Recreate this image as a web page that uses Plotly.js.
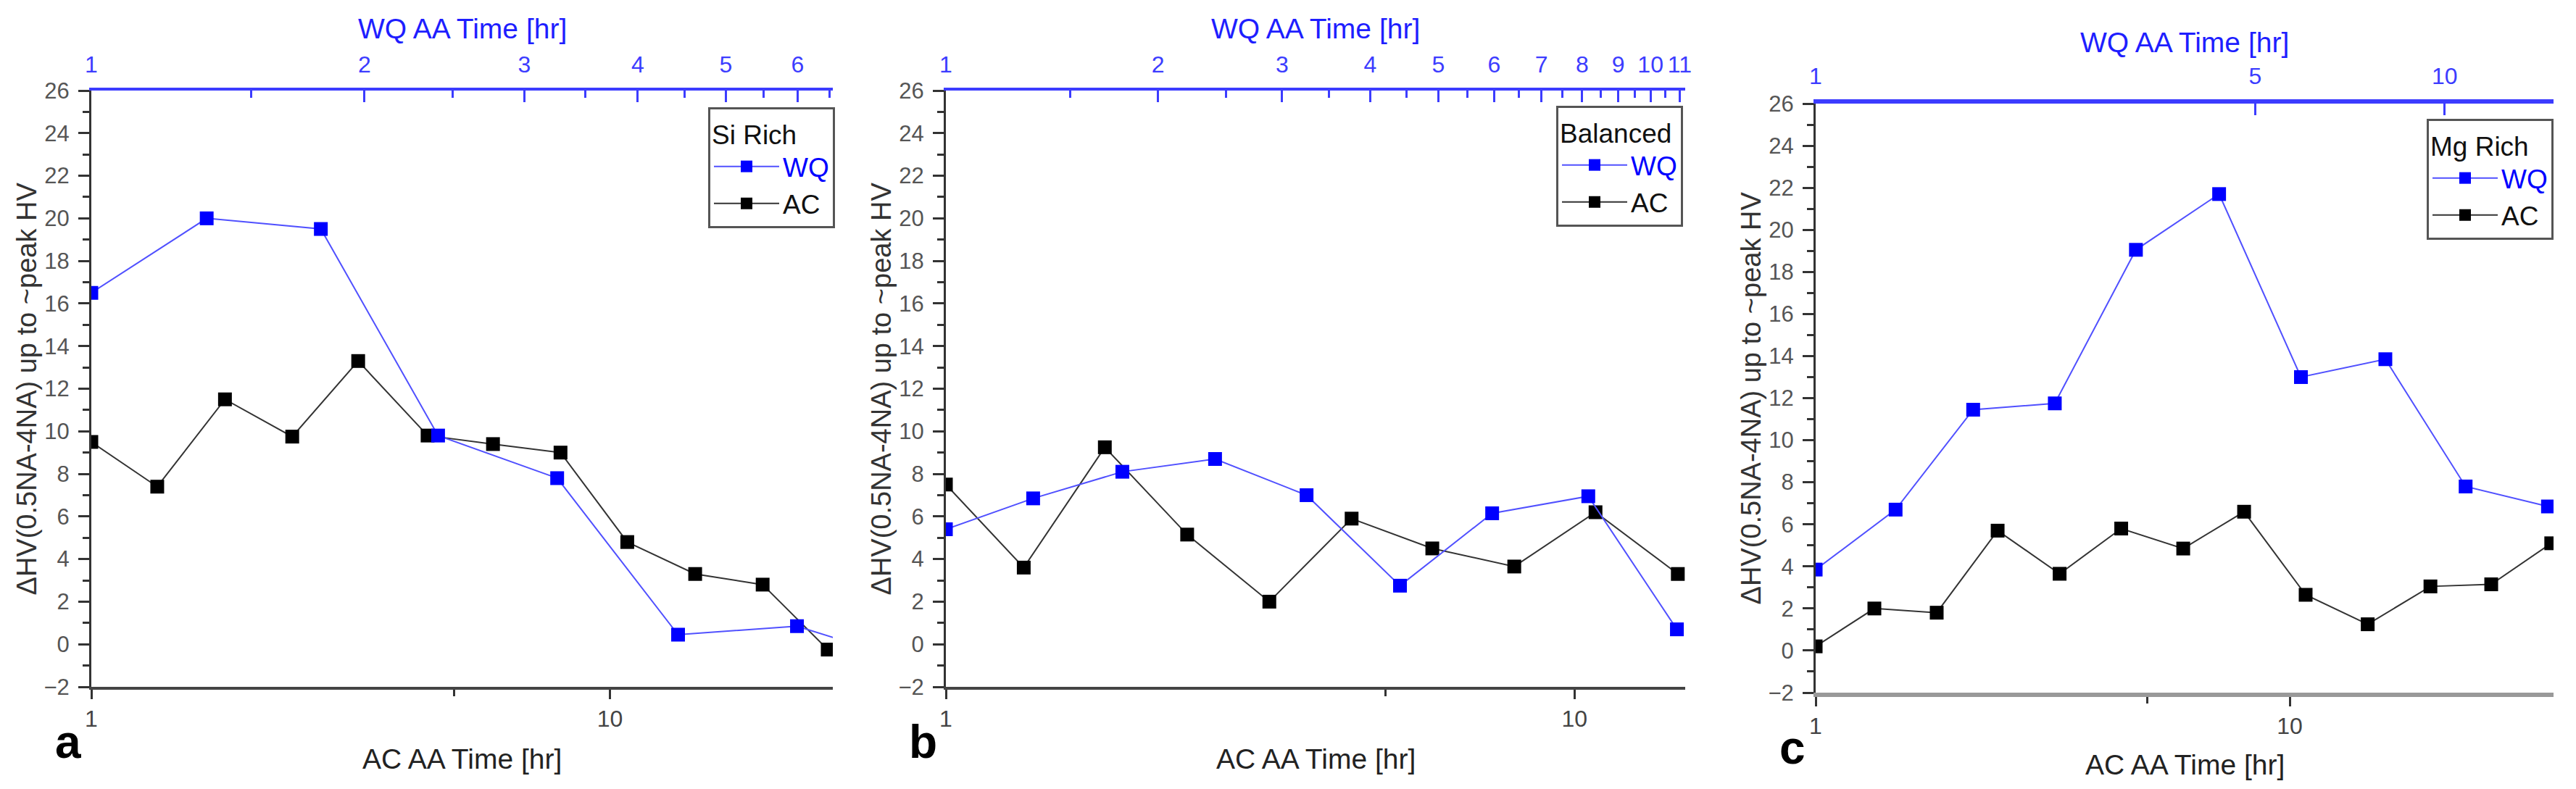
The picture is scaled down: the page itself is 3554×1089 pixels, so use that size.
<!DOCTYPE html>
<html>
<head>
<meta charset="utf-8">
<script src="https://cdn.plot.ly/plotly-3.0.1.min.js"></script>
<style>
  html, body { margin: 0; padding: 0; background: #fff; }
  #chart { width: 3554px; height: 1089px; }
</style>
</head>
<body>
<div id="chart"></div>
<script>
// DATA
// a - Si Rich
const acTimeSi = [1.0, 1.34, 1.81, 2.44, 3.27, 4.45, 5.95, 8.03, 10.8, 14.6, 19.7, 26.3];
const acSi = [9.5, 7.4, 11.5, 9.75, 13.3, 9.8, 9.4, 9.0, 4.8, 3.3, 2.8, -0.25];
const wqTimeSi = [1.0, 1.34, 1.79, 2.41, 3.26, 4.43, 5.99, 8.1];
const wqSi = [16.5, 20.0, 19.5, 9.8, 7.8, 0.45, 0.85, -0.9];

// b - Balanced
const acTimeBal = [1.0, 1.33, 1.79, 2.42, 3.27, 4.42, 5.94, 8.02, 10.8, 14.6];
const acBal = [7.5, 3.6, 9.25, 5.15, 2.0, 5.9, 4.5, 3.65, 6.2, 3.3];
const wqTimeBal = [1.0, 1.33, 1.78, 2.41, 3.25, 4.41, 5.96, 8.16, 10.9];
const wqBal = [5.4, 6.85, 8.1, 8.7, 7.0, 2.75, 6.15, 6.95, 0.7];

// c - Mg Rich
const acTimeMg = [1.0, 1.33, 1.80, 2.42, 3.27, 4.41, 5.96, 8.01, 10.8, 14.6, 19.8, 26.6, 35.6];
const acMg = [0.2, 2.0, 1.8, 5.7, 3.65, 5.8, 4.85, 6.6, 2.65, 1.25, 3.05, 3.15, 5.1];
const wqTimeMg = [1.0, 1.34, 1.78, 2.40, 3.23, 4.38, 5.91, 8.05, 10.8, 14.6];
const wqMg = [3.85, 6.7, 11.45, 11.75, 19.05, 21.7, 13.0, 13.85, 7.8, 6.85];

// axis ticks
const topTicksSi = [1, 2, 3, 4, 5, 6];
const topMinorSi = [1.5, 2.5, 3.5, 4.5, 5.5, 6.5];
const topTicksBal = [1, 2, 3, 4, 5, 6, 7, 8, 9, 10, 11];
const topMinorBal = [1.5, 2.5, 3.5, 4.5, 5.5, 6.5, 7.5, 8.5, 9.5, 10.5];
const topTicksMg = [1, 5, 10];
const bottomTicks = [1, 10];
const bottomMinor = [5];

const panelNames = ['Si Rich', 'Balanced', 'Mg Rich'];
const panelLetters = ['a', 'b', 'c'];

const W = 3554, H = 1089;
const FONT = 'Liberation Sans, Arial, sans-serif';
const BLUE = 'rgb(0,0,255)';
const BLUE_LINE = 'rgb(80,80,255)';
const BLUE_AXIS = 'rgb(60,60,255)';
const GREY_TXT = '#444';

// plot areas in pixels [left, right, top, bottom]
const boxes = [
  [126, 1149, 125, 948],
  [1305, 2325, 125, 948],
  [2505, 3523, 143, 956]
];
const topRanges = [[0, Math.log10(6.56)], [0, Math.log10(11.2)], [0, Math.log10(14.9)]];
const bottomRanges = [[0, Math.log10(26.9)], [0, Math.log10(15.0)], [0, Math.log10(36.0)]];
const topTicks = [topTicksSi, topTicksBal, topTicksMg];
const topMinor = [topMinorSi, topMinorBal, []];
const legendBoxes = [[1152, 148], [2322, 146], [3523, 164]];

function px2x(p) { return p / W; }
function px2y(p) { return 1 - p / H; }

function series(x, y, isWQ, panel) {
  let n = panel + 1;
  let xa = 'x' + (2 * panel + (isWQ ? 2 : 1));
  let ya = 'y' + (n === 1 ? '' : n);
  return {
    x: x,
    y: y,
    xaxis: xa,
    yaxis: ya,
    type: 'scatter',
    mode: 'lines+markers',
    name: isWQ ? '<span style="color:' + BLUE + '">WQ</span>' : 'AC',
    legend: n === 1 ? 'legend' : 'legend' + n,
    line: { color: isWQ ? BLUE_LINE : '#333', width: 2 },
    marker: { symbol: 'square', size: 19, color: isWQ ? BLUE : '#000' }
  };
}

let traces = [
  series(wqTimeSi, wqSi, true, 0),
  series(acTimeSi, acSi, false, 0),
  series(wqTimeBal, wqBal, true, 1),
  series(acTimeBal, acBal, false, 1),
  series(wqTimeMg, wqMg, true, 2),
  series(acTimeMg, acMg, false, 2)
];

let layout = {
  width: W,
  height: H,
  margin: { l: 0, r: 0, t: 0, b: 0, pad: 0 },
  paper_bgcolor: '#fff',
  plot_bgcolor: '#fff',
  font: { family: FONT, size: 31, color: GREY_TXT },
  annotations: []
};

for (let i = 0; i < 3; i++) {
  let b = boxes[i];
  let xd = [px2x(b[0]), px2x(b[1])];
  let yd = [px2y(b[3]), px2y(b[2])];
  let bx = 'xaxis' + (2 * i + 1);
  let tx = 'xaxis' + (2 * i + 2);
  let yName = 'yaxis' + (i === 0 ? '' : i + 1);
  let yRef = 'y' + (i === 0 ? '' : i + 1);

  layout[bx] = {
    type: 'log',
    domain: xd,
    anchor: yRef,
    range: bottomRanges[i],
    showgrid: false,
    zeroline: false,
    showline: true,
    linecolor: i === 2 ? '#999' : '#444',
    linewidth: i === 2 ? 6 : 4,
    ticks: 'outside',
    ticklen: 13,
    tickwidth: 3,
    tickcolor: '#333',
    tickmode: 'array',
    tickvals: bottomTicks,
    ticktext: bottomTicks.map(String),
    ticklabelstandoff: 0,
    tickfont: { family: FONT, size: 32, color: GREY_TXT },
    minor: { tickmode: 'array', tickvals: bottomMinor, ticks: 'outside', ticklen: 9, tickwidth: 3, tickcolor: '#333' }
  };

  layout[tx] = {
    type: 'log',
    overlaying: 'x' + (2 * i + 1),
    anchor: yRef,
    side: 'top',
    range: topRanges[i],
    showgrid: false,
    zeroline: false,
    showline: true,
    linecolor: BLUE_AXIS,
    linewidth: i === 2 ? 6 : 4,
    ticks: 'inside',
    ticklen: 16,
    tickwidth: 3,
    tickcolor: BLUE_AXIS,
    tickmode: 'array',
    tickvals: topTicks[i],
    ticktext: topTicks[i].map(String),
    ticklabelstandoff: 8,
    tickfont: { family: FONT, size: 32, color: BLUE_AXIS },
    minor: { tickmode: 'array', tickvals: topMinor[i], ticks: 'inside', ticklen: 10, tickwidth: 3, tickcolor: BLUE_AXIS }
  };

  layout[yName] = {
    domain: yd,
    anchor: 'x' + (2 * i + 1),
    range: [-2, 26],
    tickmode: 'linear',
    tick0: 0,
    dtick: 2,
    showgrid: false,
    zeroline: false,
    showline: true,
    linecolor: '#333',
    linewidth: 3,
    ticks: 'outside',
    ticklen: 15,
    tickwidth: 3,
    tickcolor: '#333',
    ticklabelstandoff: 6,
    tickfont: { family: FONT, size: 31, color: '#555' },
    minor: { dtick: 1, ticks: 'outside', ticklen: 9, tickwidth: 3, tickcolor: '#333' }
  };

  let lg = {
    x: px2x(legendBoxes[i][0]),
    y: px2y(legendBoxes[i][1]),
    xanchor: 'right',
    yanchor: 'top',
    bgcolor: '#fff',
    bordercolor: '#555',
    borderwidth: 3,
    traceorder: 'normal',
    font: { family: FONT, size: 37, color: '#111' },
    title: { text: panelNames[i], font: { family: FONT, size: 37, color: '#111' }, side: 'top' },
    itemwidth: 90,
    tracegroupgap: 0
  };
  layout[i === 0 ? 'legend' : 'legend' + (i + 1)] = lg;

  let cx = (b[0] + b[1]) / 2;
  let cy = (b[2] + b[3]) / 2;
  // axis titles
  layout.annotations.push({
    xref: 'paper', yref: 'paper', x: px2x(cx), y: px2y(b[3] + 99),
    text: 'AC AA Time [hr]', showarrow: false, xanchor: 'center', yanchor: 'middle',
    font: { family: FONT, size: 39, color: '#222' }
  });
  layout.annotations.push({
    xref: 'paper', yref: 'paper', x: px2x(cx), y: px2y(b[2] - 85),
    text: 'WQ AA Time [hr]', showarrow: false, xanchor: 'center', yanchor: 'middle',
    font: { family: FONT, size: 39, color: 'rgb(30,30,255)' }
  });
  layout.annotations.push({
    xref: 'paper', yref: 'paper', x: px2x(b[0] - 90), y: px2y(cy),
    text: 'ΔHV(0.5NA-4NA) up to ~peak HV', showarrow: false, textangle: -90,
    xanchor: 'center', yanchor: 'middle',
    font: { family: FONT, size: 38, color: '#333' }
  });
  layout.annotations.push({
    xref: 'paper', yref: 'paper', x: px2x(b[0] - 32), y: px2y(b[3] + 76),
    text: '<b>' + panelLetters[i] + '</b>', showarrow: false, xanchor: 'center', yanchor: 'middle',
    font: { family: FONT, size: 64, color: '#000' }
  });
}

Plotly.newPlot('chart', traces, layout, { staticPlot: true });
</script>
</body>
</html>
